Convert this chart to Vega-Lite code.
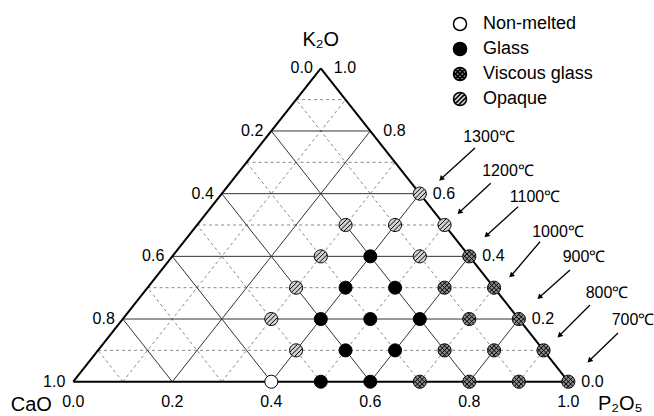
{
  "$schema": "https://vega.github.io/schema/vega-lite/v6.json",
  "width": 654,
  "height": 416,
  "padding": 0,
  "autosize": {"type": "none"},
  "background": "white",
  "config": {"view": {"stroke": null}, "font": "Liberation Sans"},
  "datasets": {
    "minor": [
      {"P1": 0, "K1": 0.1, "P2": 0.9, "K2": 0.1},
      {"P1": 0, "K1": 0.3, "P2": 0.7, "K2": 0.3},
      {"P1": 0, "K1": 0.5, "P2": 0.5, "K2": 0.5},
      {"P1": 0, "K1": 0.7, "P2": 0.3, "K2": 0.7},
      {"P1": 0, "K1": 0.9, "P2": 0.1, "K2": 0.9},
      {"P1": 0.1, "K1": 0, "P2": 0.1, "K2": 0.9},
      {"P1": 0.3, "K1": 0, "P2": 0.3, "K2": 0.7},
      {"P1": 0.5, "K1": 0, "P2": 0.5, "K2": 0.5},
      {"P1": 0.7, "K1": 0, "P2": 0.7, "K2": 0.3},
      {"P1": 0.9, "K1": 0, "P2": 0.9, "K2": 0.1},
      {"P1": 0.1, "K1": 0, "P2": 0, "K2": 0.1},
      {"P1": 0.3, "K1": 0, "P2": 0, "K2": 0.3},
      {"P1": 0.5, "K1": 0, "P2": 0, "K2": 0.5},
      {"P1": 0.7, "K1": 0, "P2": 0, "K2": 0.7},
      {"P1": 0.9, "K1": 0, "P2": 0, "K2": 0.9}
    ],
    "major": [
      {"P1": 0, "K1": 0.2, "P2": 0.8, "K2": 0.2},
      {"P1": 0, "K1": 0.4, "P2": 0.6, "K2": 0.4},
      {"P1": 0, "K1": 0.6, "P2": 0.4, "K2": 0.6},
      {"P1": 0, "K1": 0.8, "P2": 0.2, "K2": 0.8},
      {"P1": 0.2, "K1": 0, "P2": 0.2, "K2": 0.8},
      {"P1": 0.4, "K1": 0, "P2": 0.4, "K2": 0.6},
      {"P1": 0.6, "K1": 0, "P2": 0.6, "K2": 0.4},
      {"P1": 0.8, "K1": 0, "P2": 0.8, "K2": 0.2},
      {"P1": 0.2, "K1": 0, "P2": 0, "K2": 0.2},
      {"P1": 0.4, "K1": 0, "P2": 0, "K2": 0.4},
      {"P1": 0.6, "K1": 0, "P2": 0, "K2": 0.6},
      {"P1": 0.8, "K1": 0, "P2": 0, "K2": 0.8}
    ],
    "edges": [
      {"P1": 0, "K1": 0, "P2": 1, "K2": 0},
      {"P1": 0, "K1": 0, "P2": 0, "K2": 1},
      {"P1": 1, "K1": 0, "P2": 0, "K2": 1}
    ],
    "arrows": [
      {"x": 0.8115, "y": 0.7457, "x2": 0.7442, "y2": 0.649},
      {"x": 0.8432, "y": 0.6331, "x2": 0.7812, "y2": 0.5424},
      {"x": 0.8984, "y": 0.5584, "x2": 0.8358, "y2": 0.4681},
      {"x": 0.9428, "y": 0.4467, "x2": 0.8857, "y2": 0.3405},
      {"x": 1.0034, "y": 0.3564, "x2": 0.9428, "y2": 0.2712},
      {"x": 1.0438, "y": 0.2447, "x2": 0.9832, "y2": 0.149},
      {"x": 1.1004, "y": 0.1554, "x2": 1.0438, "y2": 0.0692}
    ],
    "temps": [
      {"t": "1300℃", "x": 0.8398, "y": 0.7808},
      {"t": "1200℃", "x": 0.8782, "y": 0.6723},
      {"t": "1100℃", "x": 0.9327, "y": 0.5893},
      {"t": "1000℃", "x": 0.9792, "y": 0.4777},
      {"t": "900℃", "x": 1.0317, "y": 0.3979},
      {"t": "800℃", "x": 1.0782, "y": 0.283},
      {"t": "700℃", "x": 1.1307, "y": 0.1969}
    ],
    "leftTicks": [
      {"lab": "0.0", "P": 0, "K": 1},
      {"lab": "0.2", "P": 0, "K": 0.8},
      {"lab": "0.4", "P": 0, "K": 0.6},
      {"lab": "0.6", "P": 0, "K": 0.4},
      {"lab": "0.8", "P": 0, "K": 0.2},
      {"lab": "1.0", "P": 0, "K": 0}
    ],
    "rightTicks": [
      {"lab": "1.0", "P": 0, "K": 1},
      {"lab": "0.8", "P": 0.2, "K": 0.8},
      {"lab": "0.6", "P": 0.4, "K": 0.6},
      {"lab": "0.4", "P": 0.6, "K": 0.4},
      {"lab": "0.2", "P": 0.8, "K": 0.2},
      {"lab": "0.0", "P": 1, "K": 0}
    ],
    "bottomTicks": [
      {"lab": "0.0", "P": 0, "K": 0},
      {"lab": "0.2", "P": 0.2, "K": 0},
      {"lab": "0.4", "P": 0.4, "K": 0},
      {"lab": "0.6", "P": 0.6, "K": 0},
      {"lab": "0.8", "P": 0.8, "K": 0},
      {"lab": "1.0", "P": 1, "K": 0}
    ],
    "titles": [
      {"lab": "K₂O", "P": 0, "K": 1},
      {"lab": "CaO", "P": 0, "K": 0},
      {"lab": "P₂O₅", "P": 1, "K": 0}
    ],
    "samples": [
      {"type": "Non-melted", "P": 0.4, "K": 0},
      {"type": "Glass", "P": 0.5, "K": 0},
      {"type": "Glass", "P": 0.6, "K": 0},
      {"type": "Glass", "P": 0.5, "K": 0.1},
      {"type": "Glass", "P": 0.6, "K": 0.1},
      {"type": "Glass", "P": 0.4, "K": 0.2},
      {"type": "Glass", "P": 0.5, "K": 0.2},
      {"type": "Glass", "P": 0.6, "K": 0.2},
      {"type": "Glass", "P": 0.4, "K": 0.3},
      {"type": "Glass", "P": 0.5, "K": 0.3},
      {"type": "Glass", "P": 0.4, "K": 0.4},
      {"type": "Viscous glass", "P": 0.7, "K": 0},
      {"type": "Viscous glass", "P": 0.8, "K": 0},
      {"type": "Viscous glass", "P": 0.9, "K": 0},
      {"type": "Viscous glass", "P": 1.0, "K": 0},
      {"type": "Viscous glass", "P": 0.7, "K": 0.1},
      {"type": "Viscous glass", "P": 0.8, "K": 0.1},
      {"type": "Viscous glass", "P": 0.9, "K": 0.1},
      {"type": "Viscous glass", "P": 0.7, "K": 0.2},
      {"type": "Viscous glass", "P": 0.8, "K": 0.2},
      {"type": "Viscous glass", "P": 0.6, "K": 0.3},
      {"type": "Viscous glass", "P": 0.7, "K": 0.3},
      {"type": "Viscous glass", "P": 0.6, "K": 0.4},
      {"type": "Opaque", "P": 0.4, "K": 0.1},
      {"type": "Opaque", "P": 0.3, "K": 0.2},
      {"type": "Opaque", "P": 0.3, "K": 0.3},
      {"type": "Opaque", "P": 0.3, "K": 0.4},
      {"type": "Opaque", "P": 0.5, "K": 0.4},
      {"type": "Opaque", "P": 0.3, "K": 0.5},
      {"type": "Opaque", "P": 0.4, "K": 0.5},
      {"type": "Opaque", "P": 0.5, "K": 0.5},
      {"type": "Opaque", "P": 0.4, "K": 0.6}
    ]
  },
  "encoding": {
    "x": {"field": "x", "type": "quantitative", "scale": {"domain": [-0.1481, 1.1731], "nice": false, "zero": false}, "axis": null},
    "y": {"field": "y", "type": "quantitative", "scale": {"domain": [-0.1094, 1.2179], "nice": false, "zero": false}, "axis": null}
  },
  "layer": [
    {
      "data": {"name": "minor"},
      "transform": [
        {"calculate": "datum.P1 + datum.K1 / 2", "as": "x"},
        {"calculate": "datum.K1", "as": "y"},
        {"calculate": "datum.P2 + datum.K2 / 2", "as": "x2"},
        {"calculate": "datum.K2", "as": "y2"}
      ],
      "mark": {"type": "rule", "stroke": "#6a6a6a", "strokeWidth": 0.8, "strokeDash": [3, 3]},
      "encoding": {"x2": {"field": "x2"}, "y2": {"field": "y2"}}
    },
    {
      "data": {"name": "major"},
      "transform": [
        {"calculate": "datum.P1 + datum.K1 / 2", "as": "x"},
        {"calculate": "datum.K1", "as": "y"},
        {"calculate": "datum.P2 + datum.K2 / 2", "as": "x2"},
        {"calculate": "datum.K2", "as": "y2"}
      ],
      "mark": {"type": "rule", "stroke": "#333333", "strokeWidth": 1},
      "encoding": {"x2": {"field": "x2"}, "y2": {"field": "y2"}}
    },
    {
      "data": {"name": "edges"},
      "transform": [
        {"calculate": "datum.P1 + datum.K1 / 2", "as": "x"},
        {"calculate": "datum.K1", "as": "y"},
        {"calculate": "datum.P2 + datum.K2 / 2", "as": "x2"},
        {"calculate": "datum.K2", "as": "y2"}
      ],
      "mark": {"type": "rule", "stroke": "black", "strokeWidth": 2},
      "encoding": {"x2": {"field": "x2"}, "y2": {"field": "y2"}}
    },
    {
      "data": {"name": "arrows"},
      "mark": {"type": "rule", "stroke": "black", "strokeWidth": 1.3},
      "encoding": {"x2": {"field": "x2"}, "y2": {"field": "y2"}}
    },
    {
      "data": {"name": "arrows"},
      "mark": {"type": "point", "shape": "triangle", "filled": true, "fill": "black", "opacity": 1, "size": 35, "angle": 226},
      "encoding": {
        "x": {"field": "x2", "type": "quantitative"},
        "y": {"field": "y2", "type": "quantitative"}
      }
    },
    {
      "data": {"name": "temps"},
      "mark": {"type": "text", "font": "Liberation Sans", "fontSize": 16, "align": "center", "baseline": "middle", "color": "black"},
      "encoding": {"text": {"field": "t"}}
    },
    {
      "data": {"name": "leftTicks"},
      "transform": [
        {"calculate": "datum.P + datum.K / 2", "as": "x"},
        {"calculate": "datum.K", "as": "y"}
      ],
      "mark": {"type": "text", "fontSize": 16, "align": "right", "baseline": "middle", "dx": -8, "color": "black"},
      "encoding": {"text": {"field": "lab"}}
    },
    {
      "data": {"name": "rightTicks"},
      "transform": [
        {"calculate": "datum.P + datum.K / 2", "as": "x"},
        {"calculate": "datum.K", "as": "y"}
      ],
      "mark": {"type": "text", "fontSize": 16, "align": "left", "baseline": "middle", "dx": 13, "color": "black"},
      "encoding": {"text": {"field": "lab"}}
    },
    {
      "data": {"name": "bottomTicks"},
      "transform": [
        {"calculate": "datum.P + datum.K / 2", "as": "x"},
        {"calculate": "datum.K", "as": "y"}
      ],
      "mark": {"type": "text", "fontSize": 16, "align": "center", "baseline": "middle", "dy": 20, "color": "black"},
      "encoding": {"text": {"field": "lab"}}
    },
    {
      "data": {"name": "titles"},
      "transform": [
        {"filter": "datum.lab == 'K₂O'"},
        {"calculate": "datum.P + datum.K / 2", "as": "x"},
        {"calculate": "datum.K", "as": "y"}
      ],
      "mark": {"type": "text", "fontSize": 20, "align": "center", "baseline": "middle", "dy": -28, "color": "black"},
      "encoding": {"text": {"field": "lab"}}
    },
    {
      "data": {"name": "titles"},
      "transform": [
        {"filter": "datum.lab == 'CaO'"},
        {"calculate": "datum.P + datum.K / 2", "as": "x"},
        {"calculate": "datum.K", "as": "y"}
      ],
      "mark": {"type": "text", "fontSize": 20, "align": "center", "baseline": "middle", "dx": -42, "dy": 23, "color": "black"},
      "encoding": {"text": {"field": "lab"}}
    },
    {
      "data": {"name": "titles"},
      "transform": [
        {"filter": "datum.lab == 'P₂O₅'"},
        {"calculate": "datum.P + datum.K / 2", "as": "x"},
        {"calculate": "datum.K", "as": "y"}
      ],
      "mark": {"type": "text", "fontSize": 20, "align": "center", "baseline": "middle", "dx": 52, "dy": 22, "color": "black"},
      "encoding": {"text": {"field": "lab"}}
    },
    {
      "data": {"name": "samples"},
      "transform": [
        {"calculate": "datum.P + datum.K / 2", "as": "x"},
        {"calculate": "datum.K", "as": "y"}
      ],
      "mark": {"type": "point", "filled": true, "stroke": "black", "strokeWidth": 1, "size": 170, "opacity": 1},
      "encoding": {
        "fill": {
          "field": "type", "type": "nominal",
          "scale": {"domain": ["Non-melted", "Glass", "Viscous glass", "Opaque"], "range": ["white", "black", "#8a8a8a", "#d2d2d2"]},
          "legend": {"title": null, "orient": "none", "legendX": 451, "legendY": 15, "labelFontSize": 18, "labelFont": "Liberation Sans", "labelColor": "black", "symbolSize": 170, "rowPadding": 5, "labelOffset": 14, "padding": 0}
        },
        "shape": {
          "field": "type", "type": "nominal",
          "scale": {"domain": ["Non-melted", "Glass", "Viscous glass", "Opaque"], "range": [
            "circle",
            "circle",
            "M1,0A1,1,0,1,1,-1,0A1,1,0,1,1,1,0ZM-0.707,0.707L0.707,-0.707M-0.264,0.964L0.964,-0.264M-0.964,0.264L0.264,-0.964M0.707,0.707L-0.707,-0.707M0.264,0.964L-0.964,-0.264M0.964,0.264L-0.264,-0.964",
            "M1,0A1,1,0,1,1,-1,0A1,1,0,1,1,1,0ZM-0.707,0.707L0.707,-0.707M-0.264,0.964L0.964,-0.264M-0.964,0.264L0.264,-0.964"
          ]}
        }
      }
    }
  ]
}
